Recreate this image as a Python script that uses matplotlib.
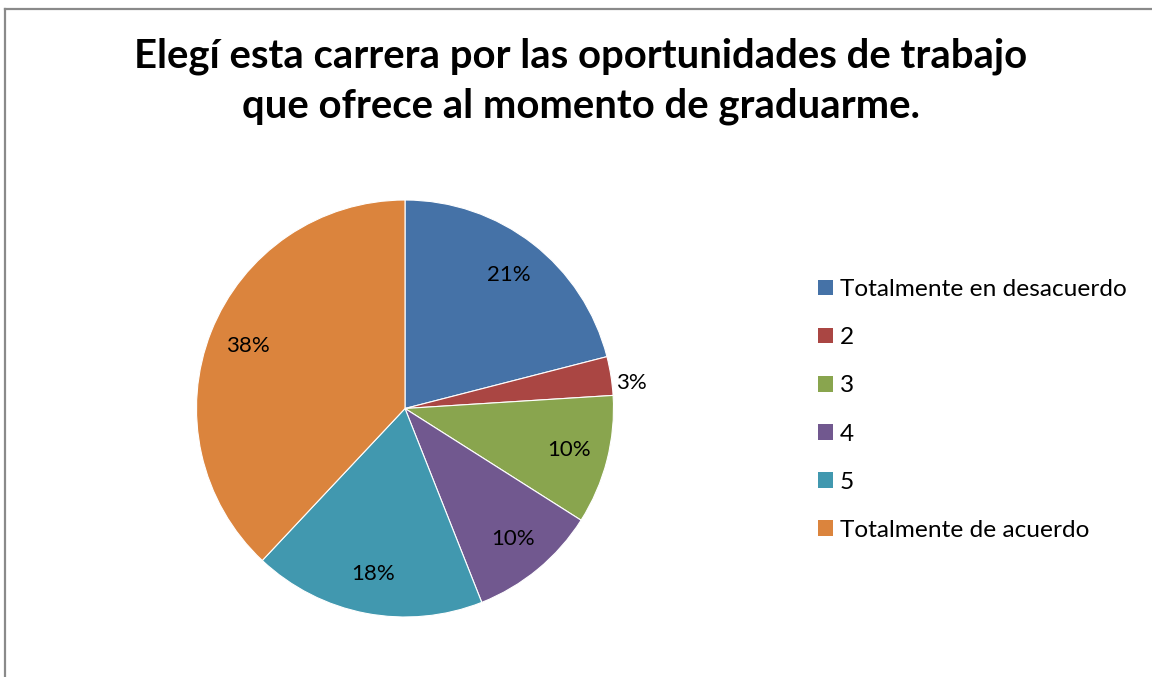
import matplotlib
matplotlib.use("Agg")
import matplotlib.pyplot as plt
import numpy as np
from matplotlib.patches import Patch
from matplotlib.lines import Line2D

title = "Elegí esta carrera por las oportunidades de trabajo\nque ofrece al momento de graduarme."
categories = ["Totalmente en desacuerdo", "2", "3", "4", "5", "Totalmente de acuerdo"]
values = [21, 3, 10, 10, 18, 38]
colors = ["#4572A7", "#AA4643", "#89A54E", "#71588F", "#4198AF", "#DB843D"]

plt.rcParams['font.family'] = ['Lato', 'DejaVu Sans']

W, H = 1152, 677
fig = plt.figure(figsize=(W / 100, H / 100), dpi=100)

cx, cy, r = 405, 408.5, 208.5
ax = fig.add_axes([(cx - r) / W, (H - cy - r) / H, 2 * r / W, 2 * r / H])
wedges, _ = ax.pie(values, colors=colors, startangle=90, counterclock=False,
                   radius=1, wedgeprops=dict(linewidth=0.8, edgecolor="white"))
ax.set_xlim(-1, 1)
ax.set_ylim(-1, 1)
ax.set_aspect('equal')
ax.axis('off')

total = sum(values)
for w, v in zip(wedges, values):
    ang = np.deg2rad((w.theta1 + w.theta2) / 2)
    if v / total < 0.05:
        x, y = 1.10 * np.cos(ang), 1.10 * np.sin(ang) - 0.05
    else:
        x, y = 0.81 * np.cos(ang), 0.81 * np.sin(ang)
    ax.text(x, y, f"{round(100 * v / total)}%",
            ha='center', va='center', fontsize=16, color='black')

fig.text(581 / W, 1 - 81 / H, title, ha='center', va='center',
         fontsize=28.8, fontweight='bold', linespacing=1.42)

handles = [Patch(facecolor=c, edgecolor='none') for c in colors]
fig.legend(handles, categories, loc='center left',
           bbox_to_anchor=(818 / W, 1 - 410 / H), frameon=False,
           fontsize=17.6, handlelength=0.6, handleheight=0.6,
           handletextpad=0.3, labelspacing=1.11, borderpad=0, borderaxespad=0)

fig.add_artist(Line2D([4.5 / W, 4.5 / W], [0, 1 - 8.5 / H], transform=fig.transFigure,
                      color='#8a8a8a', linewidth=1.6))
fig.add_artist(Line2D([4.5 / W, 1], [1 - 8.5 / H, 1 - 8.5 / H], transform=fig.transFigure,
                      color='#8a8a8a', linewidth=1.6))

fig.savefig("out.png", dpi=100, facecolor='white')
